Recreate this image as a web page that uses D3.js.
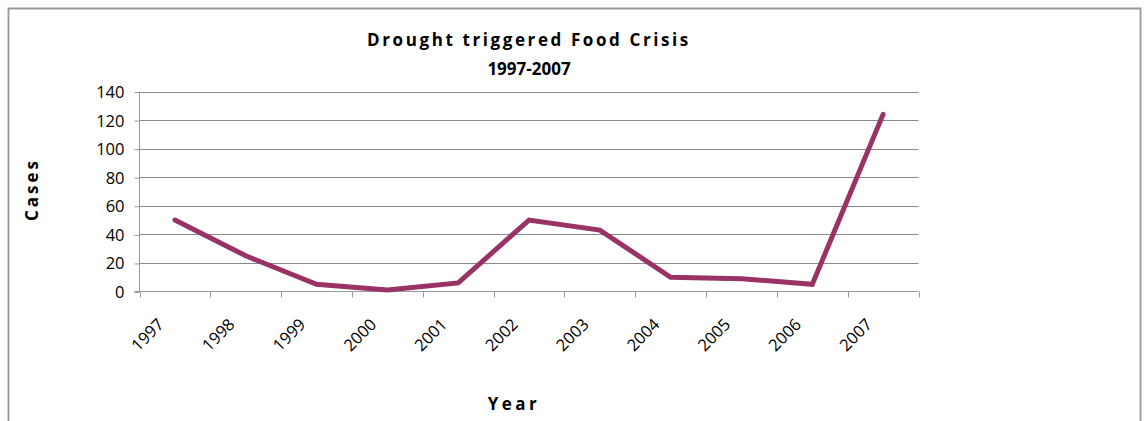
<!DOCTYPE html>
<html>
<head>
<meta charset="utf-8">
<script src="https://cdn.jsdelivr.net/npm/d3@7/dist/d3.min.js"></script>
<style>
  html, body { margin: 0; padding: 0; background: #fff; }
  svg { display: block; }
  text { font-family: "Open Sans", Lato, "Liberation Sans", sans-serif; fill: #000; }
</style>
</head>
<body>
<svg id="chart" width="1148" height="421"></svg>
<script>
// Drought-triggered food crisis cases per year
const years = ["1997", "1998", "1999", "2000", "2001", "2002", "2003", "2004", "2005", "2006", "2007"];
const cases = [50, 25, 5, 1, 6, 50, 43, 10, 9, 5, 124];
const yTicks = [0, 20, 40, 60, 80, 100, 120, 140];

const svg = d3.select("#chart");
const W = 1148, H = 421;
const plot = { left: 139.5, right: 918.5, top: 91.5, bottom: 291.5 };

// Outer frame (open at the bottom edge)
svg.append("path")
  .attr("d", `M8.5,${H}V8.5H1140.5V${H}`)
  .attr("fill", "none")
  .attr("stroke", "#999")
  .attr("stroke-width", 1.8);

const x = d3.scaleBand().domain(years).range([plot.left, plot.right]);
const y = d3.scaleLinear().domain([0, 140]).range([plot.bottom, plot.top]);

// Horizontal gridlines
svg.append("g")
  .selectAll("line")
  .data(yTicks.filter(d => d > 0))
  .join("line")
  .attr("x1", plot.left).attr("x2", plot.right)
  .attr("y1", d => Math.round(y(d)) + 0.5).attr("y2", d => Math.round(y(d)) + 0.5)
  .attr("stroke", "#8a8a8a").attr("stroke-width", 1);

// Y axis
const yAxis = svg.append("g")
  .attr("transform", `translate(${plot.left},0)`)
  .call(d3.axisLeft(y).tickValues(yTicks).tickSize(5).tickPadding(10).tickFormat(d3.format("d")));
yAxis.select(".domain").attr("stroke", "#999").attr("d", `M-5,${plot.bottom}H0V${plot.top}`);
yAxis.selectAll(".tick line").attr("stroke", "#999").attr("transform", "translate(0,0.5)");
yAxis.selectAll(".tick text").attr("font-size", 16.5).attr("dy", "0.36em")
  .style("font-family", "'Open Sans', Lato, sans-serif");

// X axis with ticks on category boundaries
const boundaries = years.map(d => x(d)).concat([plot.right]);
const xAxis = svg.append("g");
xAxis.append("line")
  .attr("x1", plot.left).attr("x2", plot.right)
  .attr("y1", plot.bottom).attr("y2", plot.bottom)
  .attr("stroke", "#999").attr("stroke-width", 1);
xAxis.selectAll("line.tk")
  .data(boundaries)
  .join("line").attr("class", "tk")
  .attr("x1", d => Math.round(d) + 0.5).attr("x2", d => Math.round(d) + 0.5)
  .attr("y1", plot.bottom).attr("y2", plot.bottom + 6)
  .attr("stroke", "#999");
xAxis.selectAll("text")
  .data(years)
  .join("text")
  .attr("transform", d => `translate(${x(d) + x.bandwidth() / 2 - 10},${plot.bottom + 34}) rotate(-45)`)
  .attr("text-anchor", "end")
  .attr("font-size", 16.5)
  .text(d => d);

// Series line
const line = d3.line()
  .x((d, i) => x(years[i]) + x.bandwidth() / 2)
  .y(d => y(d));
svg.append("path")
  .datum(cases)
  .attr("d", line)
  .attr("fill", "none")
  .attr("stroke", "#993366")
  .attr("stroke-width", 5)
  .attr("stroke-linejoin", "miter")
  .attr("stroke-linecap", "round");

// Titles
const cx = (plot.left + plot.right) / 2;
svg.append("text")
  .attr("x", cx).attr("y", 46)
  .attr("text-anchor", "middle")
  .attr("font-size", 17).attr("font-weight", "bold")
  .attr("letter-spacing", "2.6px")
  .text("Drought triggered Food Crisis");
svg.append("text")
  .attr("x", cx).attr("y", 75)
  .attr("text-anchor", "middle")
  .attr("font-size", 17).attr("font-weight", "bold")
  .text("1997-2007");

svg.append("text")
  .attr("x", 514).attr("y", 410)
  .attr("text-anchor", "middle")
  .attr("font-size", 17).attr("font-weight", "bold")
  .attr("letter-spacing", "3.5px")
  .text("Year");

svg.append("text")
  .attr("transform", `translate(38,${(plot.top + plot.bottom) / 2 - 2}) rotate(-90)`)
  .attr("text-anchor", "middle")
  .attr("font-size", 17).attr("font-weight", "bold")
  .attr("letter-spacing", "3px")
  .text("Cases");
</script>
</body>
</html>
